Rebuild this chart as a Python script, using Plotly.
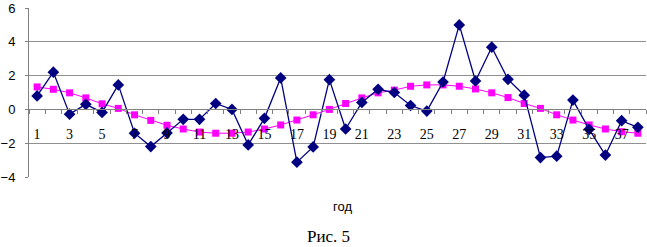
import plotly.graph_objects as go

years = list(range(1, 39))
series_actual = [0.8, 2.2, -0.28, 0.3, -0.18, 1.45, -1.41, -2.2, -1.39, -0.59,
                 -0.59, 0.35, 0.0, -2.1, -0.53, 1.86, -3.12, -2.22, 1.76, -1.16,
                 0.41, 1.19, 1.0, 0.23, -0.1, 1.62, 5.0, 1.68, 3.68, 1.78,
                 0.84, -2.85, -2.77, 0.55, -1.18, -2.7, -0.67, -1.06]
series_model = [1.33, 1.19, 0.98, 0.68, 0.33, 0.06, -0.32, -0.65, -0.94, -1.16,
                -1.34, -1.41, -1.41, -1.34, -1.16, -0.92, -0.63, -0.32, 0.0, 0.35,
                0.68, 0.98, 1.14, 1.37, 1.45, 1.45, 1.37, 1.21, 0.98, 0.70,
                0.35, 0.06, -0.32, -0.63, -0.92, -1.16, -1.32, -1.41]
x_tick_labels = [str(v) for v in range(1, 39, 2)]
y_ticks = [-4, -2, 0, 2, 4, 6]
y_grid = [-2, 2, 4]

fig = go.Figure()
fig.add_trace(go.Scatter(x=years, y=series_model, mode="lines+markers",
                         line=dict(color="#FF00FF", width=1),
                         marker=dict(symbol="square", size=7, color="#FF00FF"),
                         showlegend=False))
fig.add_trace(go.Scatter(x=years, y=series_actual, mode="lines+markers",
                         line=dict(color="#000080", width=1.3),
                         marker=dict(symbol="diamond", size=9, color="#000080"),
                         showlegend=False))
# grid-only overlay axis
fig.add_trace(go.Scatter(x=[years[0]], y=[0], yaxis="y2", mode="markers",
                         marker=dict(opacity=0), showlegend=False, hoverinfo="skip"))

plot_h = 247 - 7 - 70
plot_w = 647 - 26 - 1

fig.update_layout(
    width=647, height=247,
    margin=dict(l=26, r=1, t=7, b=70),
    paper_bgcolor="white", plot_bgcolor="white",
    xaxis=dict(range=[0.5, 38.5], anchor="free", position=0.4,
               showline=True, linecolor="#808080", linewidth=1,
               showgrid=False, zeroline=False,
               tickvals=list(range(1, 39, 2)), ticktext=x_tick_labels,
               ticks="", ticklabelstandoff=12, ticklabeloverflow="allow",
               minor=dict(tick0=0.5, dtick=1, ticks="outside", ticklen=4,
                          tickcolor="#808080", showgrid=False),
               tickfont=dict(family="Liberation Serif", size=14, color="black")),
    yaxis=dict(range=[-4, 6], tickvals=y_ticks, showgrid=False, zeroline=False,
               showline=True, linecolor="#808080", linewidth=1,
               ticks="outside", ticklen=3, tickcolor="#808080",
               ticklabelstandoff=7, ticklabeloverflow="allow",
               tickfont=dict(family="Liberation Sans", size=13, color="black")),
    yaxis2=dict(range=[-4, 6], overlaying="y", tickvals=y_grid, showgrid=True,
                gridcolor="#909090", gridwidth=1, showticklabels=False,
                zeroline=False, showline=False, ticks=""),
    annotations=[
        dict(text="год", x=(341 - 26) / plot_w, y=(247 - 70 - 207) / plot_h,
             xref="paper", yref="paper", xanchor="center", yanchor="middle",
             showarrow=False, font=dict(family="Liberation Sans", size=13, color="black")),
        dict(text="Рис. 5", x=(327 - 26) / plot_w, y=(247 - 70 - 237) / plot_h,
             xref="paper", yref="paper", xanchor="center", yanchor="middle",
             showarrow=False, font=dict(family="Liberation Serif", size=17, color="black")),
    ],
)
fig.write_html("out.html", config={"displayModeBar": False},
               post_script="document.body.style.margin='0';")
